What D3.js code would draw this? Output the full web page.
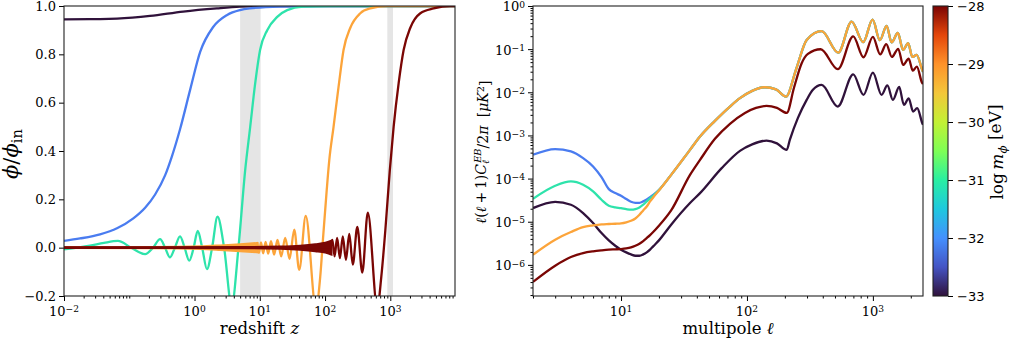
<!DOCTYPE html>
<html>
<head>
<meta charset="utf-8">
<script src="https://cdn.jsdelivr.net/npm/d3@7"></script>
<style>
  body { margin: 0; background: #fff; }
  svg text { font-family: "DejaVu Serif", serif; fill: #000; }
</style>
</head>
<body>
<div id="chart"></div>
<script>
// ---------------- data: left panel, phi / phi_in against redshift z ----------------
// one curve per field mass, log10(m / eV)
let masses = [-33, -32, -31, -30, -28];

let phiPurple = [[0.01,0.945],[0.0357,0.946],[0.065,0.948],[0.208,0.959],[0.67,0.977],[2.2,0.99],[5.0,0.997],[14.4,1.0],[9800,1.0]];
let phiBlue = [[0.01,0.028],[0.0176,0.038],[0.0357,0.055],[0.0649,0.08],[0.114,0.12],[0.175,0.165],[0.249,0.22],[0.355,0.30],[0.453,0.38],[0.60,0.49],[0.86,0.655],[1.22,0.81],[1.93,0.913],[3.16,0.963],[5.0,0.983],[7.1,0.99],[20.5,0.998],[85,1.0],[9800,1.0]];
let phiGreen = [[0.01,-0.007],[0.025,0.008],[0.041,0.02],[0.067,0.028],[0.107,0],[0.175,-0.027],[0.232,0],[0.297,0.035],[0.354,0],[0.42,-0.04],[0.50,0],[0.60,0.047],[0.705,0],[0.83,-0.054],[0.97,0],[1.12,0.069],[1.31,0],[1.55,-0.089],[1.86,0],[2.25,0.128],[2.84,0],[3.71,-0.24],[4.71,0],[5.97,0.32],[7.13,0.50],[8.5,0.68],[10.1,0.818],[13.0,0.90],[18.5,0.955],[26.3,0.983],[46,0.997],[120,1.0],[9800,1.0]];
let phiOrange = [[0.01,0],[8.6,0],[9.12,0.02],[9.72,-0.021],[10.43,0.022],[11.27,-0.023],[12.27,0.024],[13.45,-0.025],[14.85,0.027],[16.56,-0.029],[18.67,0.032],[21.28,-0.036],[24.5,0.040],[28.6,-0.046],[33.7,0.075],[40.2,-0.092],[50.6,0.131],[72.4,-0.25],[84.4,-0.12],[93.8,0.05],[106.2,0.24],[115.9,0.36],[135,0.50],[161,0.665],[192,0.818],[244,0.91],[347,0.97],[494,0.99],[900,1.0],[9800,1.0]];
let phiRed = [[0.01,0],[120,0],[129.5,0.032],[140,-0.036],[153,0.04],[169,-0.043],[187,0.047],[209,-0.05],[235,0.057],[266,-0.07],[312,0.086],[372,-0.103],[452,0.145],[632,-0.25],[728,-0.12],[838,0.07],[982,0.32],[1124,0.5],[1341,0.68],[1600,0.818],[2027,0.91],[2886,0.97],[4616,0.99],[8318,1.0],[9800,1.0]];

// fast oscillations that are too dense to resolve: [z, half amplitude]
let envOrange = [[0.01,0.001],[0.208,0.002],[1.22,0.005],[2.46,0.009],[5.0,0.014],[9.2,0.019]];
let envRed = [[0.01,0.001],[7.1,0.002],[20.6,0.004],[41.7,0.008],[70.8,0.014],[101,0.02],[125,0.028]];

// shaded redshift ranges
let bands = [[5, 10.3], [900, 1100]];

let zTicks = [0.01, 1, 10, 100, 1000];
let phiTicks = [-0.2, 0.0, 0.2, 0.4, 0.6, 0.8, 1.0];

// ---------------- data: right panel, EB spectrum ----------------
let ellLow = [2,3,4,5,6,7,8,9,10,11,12,13,14,15,16,17,18,20];
let clPurpleLow = [2.07e-5,2.90e-5,2.48e-5,1.59e-5,9.31e-6,5.47e-6,3.70e-6,2.78e-6,2.25e-6,1.95e-6,1.75e-6,1.63e-6,1.63e-6,1.75e-6,1.95e-6,2.25e-6,2.69e-6,3.70e-6];
let clBlueLow = [3.56e-4,4.81e-4,4.25e-4,2.98e-4,1.91e-4,1.08e-4,5.70e-5,4.61e-5,4.00e-5,3.35e-5,2.90e-5,2.75e-5,2.75e-5,2.96e-5,3.30e-5,3.70e-5,4.20e-5,5.45e-5];
let clGreenLow = [3.40e-5,6.81e-5,8.59e-5,7.18e-5,5.04e-5,3.23e-5,2.34e-5,2.15e-5,2.07e-5,1.96e-5,1.90e-5,1.96e-5,2.15e-5,2.48e-5,2.96e-5,3.47e-5,4.00e-5,5.40e-5];
let clOrangeLow = [1.72e-6,3.83e-6,5.78e-6,7.53e-6,8.22e-6,8.67e-6,8.85e-6,8.99e-6,9.14e-6,9.64e-6,1.05e-5,1.19e-5,1.45e-5,1.83e-5,2.26e-5,2.96e-5,3.66e-5,5.31e-5];
let clRedLow = [4.02e-7,9.57e-7,1.52e-6,1.88e-6,2.06e-6,2.17e-6,2.25e-6,2.29e-6,2.33e-6,2.41e-6,2.55e-6,2.78e-6,3.10e-6,3.56e-6,4.19e-6,4.91e-6,5.77e-6,8.07e-6];

// [ell, value] above ell = 25 (blue and green follow the orange curve there)
let clPurpleHigh = [[25,8.53e-6],[35.3,2.71e-5],[42.4,4.61e-5],[63,1.75e-4],[88,4.40e-4],[110,6.22e-4],[143,7.62e-4],[173,6.56e-4],[207,4.64e-4],[219,7.91e-4],[254,2.55e-3],[298,6.67e-3],[334,1.14e-2],[392,1.48e-2],[526,4.67e-3],[698,2.60e-2],[842,8.71e-3],[1000,2.86e-2],[1172,8.71e-3],[1303,1.44e-2],[1442,6.67e-3],[1618,1.33e-2],[1762,5.11e-3],[1924,7.2e-3],[2088,3.57e-3],[2247,4.28e-3],[2478,1.86e-3],[2500,1.76e-3]];
let clOrangeHigh = [[25,1.22e-4],[35.3,4.64e-4],[42.4,9.44e-4],[55.7,2.18e-3],[73.3,4.67e-3],[88,7.30e-3],[110,1.08e-2],[139,1.31e-2],[170,1.17e-2],[204,7.94e-3],[247,3.6e-2],[298,0.163],[392,0.261],[531,8.30e-2],[678,0.433],[838,0.145],[995,0.482],[1136,0.161],[1285,0.348],[1407,0.143],[1578,0.237],[1738,9.58e-2],[1906,0.137],[2056,6.60e-2],[2222,7.34e-2],[2473,3.21e-2],[2500,2.97e-2]];
let clRedHigh = [[25,1.83e-5],[35.3,1.22e-4],[42.4,2.72e-4],[55.7,8.34e-4],[73.3,1.86e-3],[96.4,3.33e-3],[118,4.35e-3],[143,4.84e-3],[173,4.35e-3],[207,3.33e-3],[236,1.26e-2],[272,4.72e-2],[305,7.74e-2],[385,9.95e-2],[527,3.43e-2],[698,0.197],[842,6.49e-2],[1000,0.192],[1143,7.54e-2],[1277,0.131],[1415,6.60e-2],[1588,0.102],[1738,4.31e-2],[1924,6.00e-2],[2075,3.18e-2],[2233,3.94e-2],[2455,1.68e-2],[2500,1.56e-2]];

let ellTicks = [10, 100, 1000];
let clTicks = [1e0, 1e-1, 1e-2, 1e-3, 1e-4, 1e-5, 1e-6];
let massTicks = [-33, -32, -31, -30, -29, -28];

// line colours, same order as masses
let lineColors = ["#30123b", "#4a7cf0", "#2ee3ab", "#fca43a", "#7a0604"];
// colour bar stops (turbo), bottom to top
let barColors = ["#30123b","#4454c4","#4490fe","#1fc8de","#29efa2","#7eff55","#c3f134","#f3c63a","#fe922a","#e4460a","#7a0403"];

// ---------------------------------------------------------------
const svg = d3.select("#chart").append("svg")
    .attr("width", 1012)
    .attr("height", 340);

function pairs(xs, ys) {
    return xs.map((x, i) => [x, ys[i]]);
}

function minorLogTicks(lo, hi) {
    let out = [];
    for (let e = Math.floor(Math.log10(lo)); e <= Math.ceil(Math.log10(hi)); e++) {
        for (let k = 1; k < 10; k++) {
            let v = k * Math.pow(10, e);
            if (v >= lo && v <= hi) out.push(v);
        }
    }
    return out;
}

// "10" with a raised exponent
function powLabel(sel, v) {
    let e = Math.round(Math.log10(v));
    sel.append("tspan").text("10");
    sel.append("tspan").attr("dy", "-0.4em").attr("font-size", "0.7em")
        .text(e < 0 ? "\u2212" + (-e) : e);
}

function frame(g, b) {
    g.append("rect")
        .attr("x", b.left).attr("y", b.top)
        .attr("width", b.right - b.left).attr("height", b.bottom - b.top)
        .attr("fill", "none").attr("stroke", "#222").attr("stroke-width", 1.1);
}

function clip(id, b) {
    svg.append("clipPath").attr("id", id).append("rect")
        .attr("x", b.left).attr("y", b.top)
        .attr("width", b.right - b.left).attr("height", b.bottom - b.top);
}

// ---------------- left panel ----------------
function drawPhiPanel() {
    let b = {left: 64, right: 455, top: 6, bottom: 296};
    let x = d3.scaleLog().domain([0.01, 9800]).range([b.left, b.right]);
    let y = d3.scaleLinear().domain([-0.2, 1.0]).range([b.bottom, b.top]);

    clip("clipPhi", b);
    let g = svg.append("g");
    let plot = g.append("g").attr("clip-path", "url(#clipPhi)");

    plot.selectAll(".band").data(bands).enter().append("rect")
        .attr("class", "band")
        .attr("x", d => x(d[0])).attr("width", d => x(d[1]) - x(d[0]))
        .attr("y", b.top).attr("height", b.bottom - b.top)
        .attr("fill", "#e5e5e5");

    let line = d3.line().x(d => x(d[0])).y(d => y(d[1])).curve(d3.curveMonotoneX);
    let area = d3.area().x(d => x(d[0])).y0(d => y(-d[1])).y1(d => y(d[1])).curve(d3.curveMonotoneX);

    let curves = [
        {points: phiPurple, color: lineColors[0]},
        {points: phiBlue, color: lineColors[1]},
        {points: phiGreen, color: lineColors[2]},
        {points: phiOrange, color: lineColors[3], env: envOrange},
        {points: phiRed, color: lineColors[4], env: envRed}
    ];
    curves.forEach(c => {
        if (c.env) {
            plot.append("path").attr("d", area(c.env)).attr("fill", c.color)
                .attr("stroke", c.color).attr("stroke-width", 2.2);
        }
        plot.append("path").attr("d", line(c.points))
            .attr("fill", "none").attr("stroke", c.color).attr("stroke-width", 2.3);
    });

    // x axis
    let xMinor = minorLogTicks(0.01, 9800).filter(v => !zTicks.includes(v));
    g.append("g").attr("transform", `translate(0,${b.bottom})`)
        .call(d3.axisBottom(x).tickValues(xMinor).tickSize(2.5).tickFormat(""))
        .call(a => a.select(".domain").remove());
    g.append("g").attr("transform", `translate(0,${b.bottom})`)
        .call(d3.axisBottom(x).tickValues(zTicks).tickSize(5).tickFormat(""))
        .call(a => a.select(".domain").remove());
    g.selectAll(".zlab").data(zTicks).enter().append("text")
        .attr("class", "zlab")
        .attr("x", d => x(d)).attr("y", 316)
        .attr("text-anchor", "middle").attr("font-size", 13)
        .each(function(d) { powLabel(d3.select(this), d); });

    // y axis
    g.append("g").attr("transform", `translate(${b.left},0)`)
        .call(d3.axisLeft(y).tickValues(phiTicks).tickSize(5).tickFormat(""))
        .call(a => a.select(".domain").remove());
    g.selectAll(".plab").data(phiTicks).enter().append("text")
        .attr("class", "plab")
        .attr("x", 56).attr("y", d => y(d) + 4.6)
        .attr("text-anchor", "end").attr("font-size", 13)
        .text(d3.format(".1f"));

    frame(g, b);

    // labels
    let xl = g.append("text").attr("x", (b.left + b.right) / 2).attr("y", 334)
        .attr("text-anchor", "middle").attr("font-size", 16.5);
    xl.append("tspan").text("redshift ");
    xl.append("tspan").attr("font-style", "italic").text("z");

    let yl = g.append("text")
        .attr("transform", `translate(18,154) rotate(-90)`)
        .attr("text-anchor", "middle").attr("font-size", 21);
    yl.append("tspan").attr("font-style", "italic").text("\u03d5");
    yl.append("tspan").text("/");
    yl.append("tspan").attr("font-style", "italic").text("\u03d5");
    yl.append("tspan").attr("dy", "0.3em").attr("font-size", "0.7em").text("in");
}

// ---------------- right panel ----------------
function drawSpectrumPanel() {
    let b = {left: 533, right: 923, top: 6, bottom: 296};
    let x = d3.scaleLog().domain([2, 2500]).range([b.left, b.right]);
    let y = d3.scaleLog().domain([1.9e-7, 1]).range([b.bottom, b.top]);

    clip("clipCl", b);
    let g = svg.append("g");
    let plot = g.append("g").attr("clip-path", "url(#clipCl)");

    let line = d3.line().x(d => x(d[0])).y(d => y(d[1])).curve(d3.curveMonotoneX);

    let curves = [
        {points: pairs(ellLow, clPurpleLow).concat(clPurpleHigh), color: lineColors[0]},
        {points: pairs(ellLow, clBlueLow).concat(clOrangeHigh), color: lineColors[1]},
        {points: pairs(ellLow, clGreenLow).concat(clOrangeHigh), color: lineColors[2]},
        {points: pairs(ellLow, clOrangeLow).concat(clOrangeHigh), color: lineColors[3]},
        {points: pairs(ellLow, clRedLow).concat(clRedHigh), color: lineColors[4]}
    ];
    plot.selectAll(".cl").data(curves).enter().append("path")
        .attr("class", "cl")
        .attr("d", d => line(d.points))
        .attr("fill", "none")
        .attr("stroke", d => d.color)
        .attr("stroke-width", 2.3);

    // x axis
    let xMinor = minorLogTicks(2, 2500).filter(v => !ellTicks.includes(v));
    g.append("g").attr("transform", `translate(0,${b.bottom})`)
        .call(d3.axisBottom(x).tickValues(xMinor).tickSize(2.5).tickFormat(""))
        .call(a => a.select(".domain").remove());
    g.append("g").attr("transform", `translate(0,${b.bottom})`)
        .call(d3.axisBottom(x).tickValues(ellTicks).tickSize(5).tickFormat(""))
        .call(a => a.select(".domain").remove());
    g.selectAll(".llab").data(ellTicks).enter().append("text")
        .attr("class", "llab")
        .attr("x", d => x(d)).attr("y", 316)
        .attr("text-anchor", "middle").attr("font-size", 13)
        .each(function(d) { powLabel(d3.select(this), d); });

    // y axis
    let yMinor = minorLogTicks(1.9e-7, 1).filter(v => !clTicks.some(t => Math.abs(t - v) / t < 1e-6));
    g.append("g").attr("transform", `translate(${b.left},0)`)
        .call(d3.axisLeft(y).tickValues(yMinor).tickSize(2.5).tickFormat(""))
        .call(a => a.select(".domain").remove());
    g.append("g").attr("transform", `translate(${b.left},0)`)
        .call(d3.axisLeft(y).tickValues(clTicks).tickSize(5).tickFormat(""))
        .call(a => a.select(".domain").remove());
    g.selectAll(".clab").data(clTicks).enter().append("text")
        .attr("class", "clab")
        .attr("x", 525).attr("y", d => y(d) + 5.4)
        .attr("text-anchor", "end").attr("font-size", 13)
        .each(function(d) { powLabel(d3.select(this), d); });

    frame(g, b);

    let xl = g.append("text").attr("x", (b.left + b.right) / 2).attr("y", 334)
        .attr("text-anchor", "middle").attr("font-size", 16.5);
    xl.append("tspan").text("multipole ");
    xl.append("tspan").attr("font-style", "italic").text("\u2113");

    let yl = g.append("text")
        .attr("transform", `translate(486,152) rotate(-90)`)
        .attr("text-anchor", "middle").attr("font-size", 14);
    yl.append("tspan").attr("font-style", "italic").text("\u2113");
    yl.append("tspan").text("(");
    yl.append("tspan").attr("font-style", "italic").text("\u2113");
    yl.append("tspan").text("\u2009+\u20091)");
    yl.append("tspan").attr("font-style", "italic").text("C");
    yl.append("tspan").attr("dy", "0.3em").attr("font-size", "0.7em").attr("font-style", "italic").text("\u2113");
    yl.append("tspan").attr("dx", "-0.3em").attr("dy", "-0.85em").attr("font-size", "0.7em").attr("font-style", "italic").text("EB");
    yl.append("tspan").attr("dy", "0.55em").text("/2");
    yl.append("tspan").attr("font-style", "italic").text("\u03c0");
    yl.append("tspan").attr("dx", "0.6em").text("[");
    yl.append("tspan").attr("font-style", "italic").text("\u03bcK");
    yl.append("tspan").attr("dy", "-0.45em").attr("font-size", "0.7em").text("2");
    yl.append("tspan").attr("dy", "0.45em").text("]");
}

// ---------------- colour bar ----------------
function drawColorbar() {
    let b = {left: 933, right: 948, top: 6, bottom: 296};
    let y = d3.scaleLinear().domain([-33, -28]).range([b.bottom, b.top]);

    let grad = svg.append("defs").append("linearGradient")
        .attr("id", "turbo").attr("x1", 0).attr("y1", 1).attr("x2", 0).attr("y2", 0);
    grad.selectAll("stop").data(barColors).enter().append("stop")
        .attr("offset", (d, i) => i / (barColors.length - 1))
        .attr("stop-color", d => d);

    let g = svg.append("g");
    g.append("rect")
        .attr("x", b.left).attr("y", b.top)
        .attr("width", b.right - b.left).attr("height", b.bottom - b.top)
        .attr("fill", "url(#turbo)");

    g.append("g").attr("transform", `translate(${b.right},0)`)
        .call(d3.axisRight(y).tickValues(massTicks).tickSize(5).tickFormat(""))
        .call(a => a.select(".domain").remove());
    g.selectAll(".mlab").data(massTicks).enter().append("text")
        .attr("class", "mlab")
        .attr("x", 957).attr("y", d => y(d) + 4.6)
        .attr("font-size", 13)
        .style("font-family", "DejaVu Sans")
        .text(d => "\u2212" + (-d));

    frame(g, b);

    let lab = g.append("text")
        .attr("transform", `translate(1003,152) rotate(-90)`)
        .attr("text-anchor", "middle").attr("font-size", 17);
    lab.append("tspan").text("log\u2009");
    lab.append("tspan").attr("font-style", "italic").text("m");
    lab.append("tspan").attr("dy", "0.3em").attr("font-size", "0.7em").attr("font-style", "italic").text("\u03d5");
    lab.append("tspan").attr("dy", "-0.3em").text(" [eV]");
}

drawPhiPanel();
drawSpectrumPanel();
drawColorbar();
</script>
</body>
</html>
